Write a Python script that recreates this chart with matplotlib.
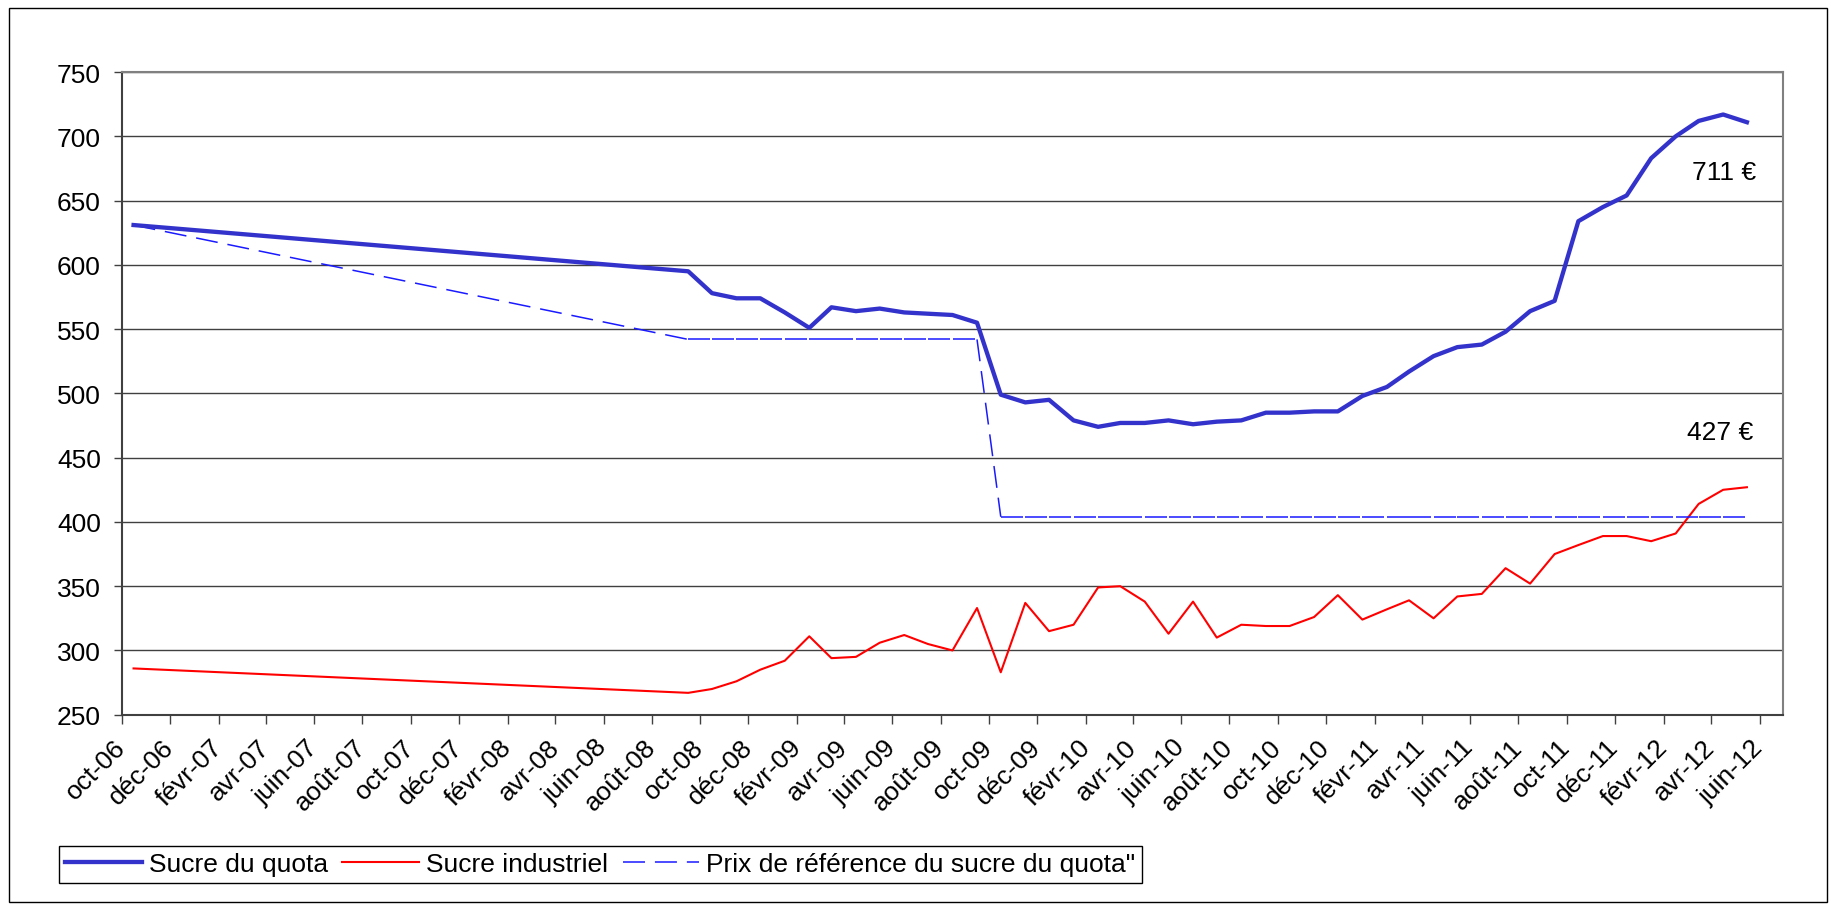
import datetime as dt
import matplotlib
matplotlib.use("Agg")
import matplotlib.pyplot as plt
from matplotlib.patches import Rectangle

plt.rcParams['font.family'] = ['Liberation Sans', 'DejaVu Sans']

# Mois des relevés : oct-06 puis chaque mois de sept-08 à mai-12
mois = ["2006-10",
        "2008-09", "2008-10", "2008-11", "2008-12",
        "2009-01", "2009-02", "2009-03", "2009-04", "2009-05", "2009-06",
        "2009-07", "2009-08", "2009-09", "2009-10", "2009-11", "2009-12",
        "2010-01", "2010-02", "2010-03", "2010-04", "2010-05", "2010-06",
        "2010-07", "2010-08", "2010-09", "2010-10", "2010-11", "2010-12",
        "2011-01", "2011-02", "2011-03", "2011-04", "2011-05", "2011-06",
        "2011-07", "2011-08", "2011-09", "2011-10", "2011-11", "2011-12",
        "2012-01", "2012-02", "2012-03", "2012-04", "2012-05"]

sucre_quota = [631,
               595, 578, 574, 574,
               563, 551, 567, 564, 566, 563, 562, 561, 555, 499, 493, 495,
               479, 474, 477, 477, 479, 476, 478, 479, 485, 485, 486, 486,
               498, 505, 517, 529, 536, 538, 548, 564, 572, 634, 645, 654,
               683, 700, 712, 717, 711]

sucre_industriel = [286,
                    267, 270, 276, 285,
                    292, 311, 294, 295, 306, 312, 305, 300, 333, 283, 337, 315,
                    320, 349, 350, 338, 313, 338, 310, 320, 319, 319, 326, 343,
                    324, 332, 339, 325, 342, 344, 364, 352, 375, 382, 389, 389,
                    385, 391, 414, 425, 427]

prix_reference = [631,
                  542, 542, 542, 542,
                  542, 542, 542, 542, 542, 542, 542, 542, 542, 404, 404, 404,
                  404, 404, 404, 404, 404, 404, 404, 404, 404, 404, 404, 404,
                  404, 404, 404, 404, 404, 404, 404, 404, 404, 404, 404, 404,
                  404, 404, 404, 404, 404]

noms_mois = {2: "févr", 4: "avr", 6: "juin", 8: "août", 10: "oct", 12: "déc"}

# point placé au milieu du mois (comme Excel)
dates = [dt.datetime.strptime(m + "-16", "%Y-%m-%d") for m in mois]

FS = 19
W, H = 1836, 912
fig = plt.figure(figsize=(W / 100, H / 100), dpi=100)
fig.patch.set_facecolor("white")

# cadre extérieur du graphique
fig.add_artist(Rectangle((9 / W, 9 / H), 1 - 18 / W, 1 - 18 / H,
                         transform=fig.transFigure, fill=False,
                         edgecolor="black", linewidth=1))

left, right, top, bottom = 121.7, 1783.3, 73.1, 715.7
ax = fig.add_axes([left / W, 1 - bottom / H, (right - left) / W, (bottom - top) / H])

ax.plot(dates, sucre_quota, color="#3333CC", linewidth=3.1,
        label="Sucre du quota", zorder=4)
ax.plot(dates, sucre_industriel, color="#FF0000", linewidth=1.5,
        label="Sucre industriel", zorder=3)
# tirets repris à chaque segment, comme dans Excel
for i in range(len(dates) - 1):
    ax.plot(dates[i:i + 2], prix_reference[i:i + 2], color="#1A1AFF",
            linewidth=1.1, dashes=(14.4, 6.5), zorder=3,
            label='Prix de référence du sucre du quota"' if i == 0 else None)

ax.set_ylim(250, 750)
ax.set_yticks(range(250, 751, 50))
ax.set_xlim(dt.datetime(2006, 10, 1), dt.datetime(2012, 7, 1))

ticks = [dt.datetime(2006 + (9 + k * 2) // 12, (9 + k * 2) % 12 + 1, 1) for k in range(35)]
ax.set_xticks(ticks)
ax.set_xticklabels([f"{noms_mois[d.month]}-{d.year % 100:02d}" for d in ticks],
                   rotation=45, ha="right", va="center", rotation_mode="anchor")

ax.grid(axis="y", color="#404040", linewidth=1)
ax.set_axisbelow(True)
ax.tick_params(axis="x", direction="out", length=6.3, width=1, color="#404040",
               labelsize=FS, pad=14)
ax.tick_params(axis="y", direction="out", length=6, width=1, color="#404040",
               labelsize=FS, pad=9)
for side in ["left", "bottom"]:
    ax.spines[side].set_color("#404040")
    ax.spines[side].set_linewidth(1.5)
for side in ["right", "top"]:
    ax.spines[side].set_color("#808080")
    ax.spines[side].set_linewidth(1.5)

ax.text(dt.datetime(2012, 3, 8), 672, "711 €", fontsize=FS, va="center", ha="left")
ax.text(dt.datetime(2012, 3, 1), 470, "427 €", fontsize=FS, va="center", ha="left")

leg = fig.legend(loc="upper left", bbox_to_anchor=(58.6 / W, 1 - 846.7 / H),
                 ncol=3, fontsize=FS, frameon=True, fancybox=False,
                 edgecolor="black", framealpha=1, borderpad=0.25,
                 handlelength=2.9, handletextpad=0.27, columnspacing=0.55,
                 borderaxespad=0)
leg.get_frame().set_linewidth(1)

fig.savefig("out.png", dpi=100)
